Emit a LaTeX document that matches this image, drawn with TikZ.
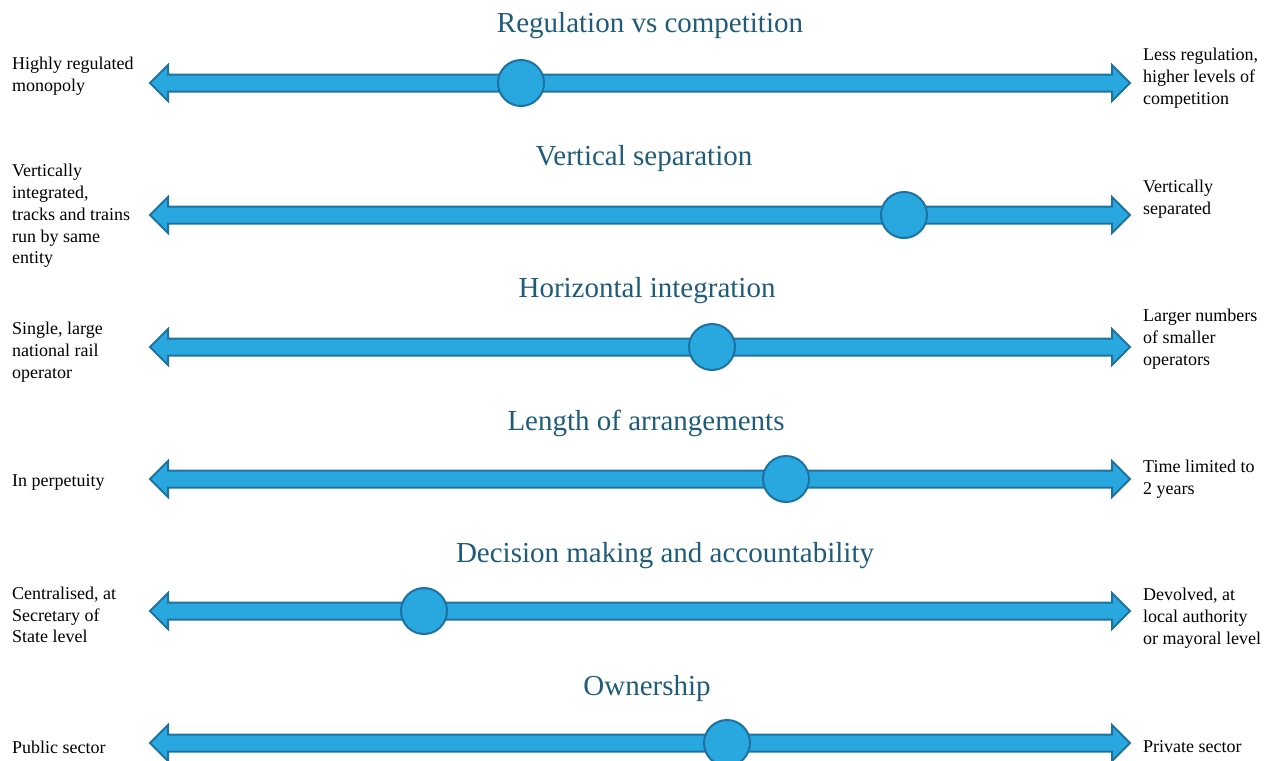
\documentclass[tikz,border=0pt]{standalone}
\usepackage{fontspec}
\setmainfont{Liberation Serif}
\usepackage{xcolor}
\usetikzlibrary{shapes.arrows,positioning}

\definecolor{barfill}{HTML}{29A8DF}
\definecolor{barline}{HTML}{1C72A2}
\definecolor{headcol}{HTML}{1F5C79}

\begin{document}
\begin{tikzpicture}[
    x=1pt, y=-1pt,
    bar/.style={
        double arrow,
        draw=barline,
        fill=barfill,
        line width=2pt,
        inner xsep=0pt,
        inner ysep=7.5pt,
        minimum height=980pt,
        double arrow head extend=9.5pt,
        anchor=center
    },
    knob/.style={
        circle,
        draw=barline,
        fill=barfill,
        line width=2pt,
        minimum size=46pt,
        inner sep=0pt
    },
    heading/.style={
        font=\fontsize{29}{34}\selectfont,
        text=headcol,
        inner sep=0pt
    },
    lbl/.style={
        font=\fontsize{18}{21.7}\selectfont,
        align=left,
        anchor=west,
        inner sep=0pt
    }
]
\useasboundingbox (0,0) rectangle (1273,760);

% regulation vs competition
\node[heading] (t1) at (650,26) {Regulation vs competition};
\node[bar] (b1) at (640,83) {};
\node[knob] (k1) at (521,83) {};
\node[lbl] (l1) at (12,76) {Highly regulated\\monopoly};
\node[lbl] (r1) at (1143,78) {Less regulation,\\higher levels of\\competition};

% vertical separation
\node[heading] (t2) at (644,159) {Vertical separation};
\node[bar] (b2) at (640,215) {};
\node[knob] (k2) at (904,215) {};
\node[lbl] (l2) at (12,216) {Vertically\\integrated,\\tracks and trains\\run by same\\entity};
\node[lbl] (r2) at (1143,199) {Vertically\\separated};

% horizontal integration
\node[heading] (t3) at (647,291) {Horizontal integration};
\node[bar] (b3) at (640,347) {};
\node[knob] (k3) at (712,347) {};
\node[lbl] (l3) at (12,352) {Single, large\\national rail\\operator};
\node[lbl] (r3) at (1143,339) {Larger numbers\\of smaller\\operators};

% length of arrangements
\node[heading] (t4) at (646,423) {Length of arrangements};
\node[bar] (b4) at (640,479) {};
\node[knob] (k4) at (786,479) {};
\node[lbl] (l4) at (12,482) {In perpetuity};
\node[lbl] (r4) at (1143,479) {Time limited to\\2 years};

% decision making
\node[heading] (t5) at (665,556) {Decision making and accountability};
\node[bar] (b5) at (640,611) {};
\node[knob] (k5) at (424,611) {};
\node[lbl] (l5) at (12,615) {Centralised, at\\Secretary of\\State level};
\node[lbl] (r5) at (1143,618) {Devolved, at\\local authority\\or mayoral level};

% ownership
\node[heading] (t6) at (647,689) {Ownership};
\node[bar] (b6) at (640,743) {};
\node[knob] (k6) at (727,743) {};
\node[lbl] (l6) at (12,747) {Public sector};
\node[lbl] (r6) at (1143,747) {Private sector};

\end{tikzpicture}
\end{document}
